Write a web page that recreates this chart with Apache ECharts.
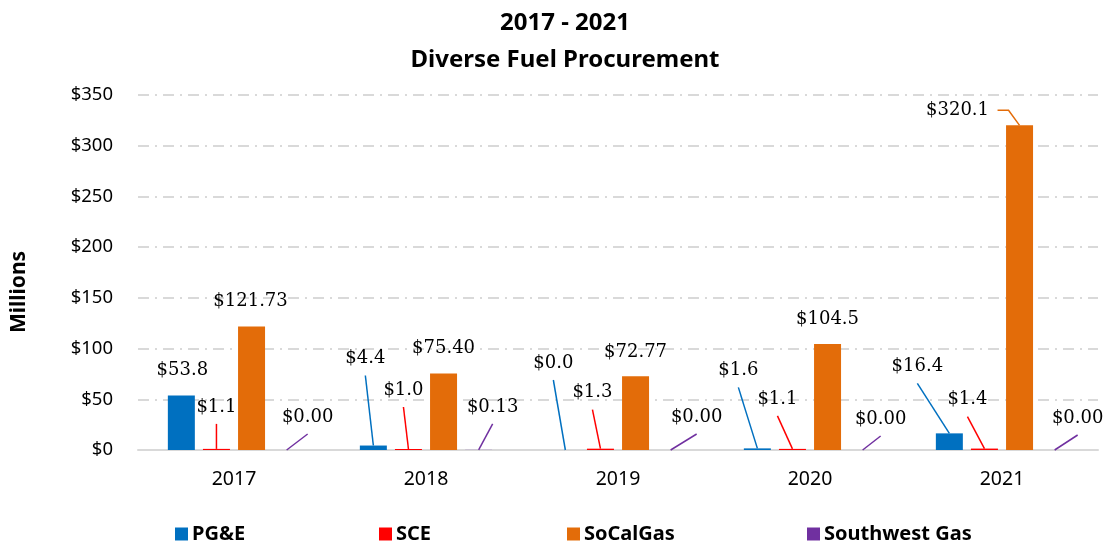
<!DOCTYPE html>
<html>
<head>
<meta charset="utf-8">
<script src="https://cdn.jsdelivr.net/npm/echarts@6/dist/echarts.min.js"></script>
<style>
    html, body { margin: 0; padding: 0; background: #fff; }
    #chart { width: 1107px; height: 547px; }
</style>
</head>
<body>
<div id="chart"></div>
<script>
// 数据
const years = ['2017', '2018', '2019', '2020', '2021'];
const yTicks = [0, 50, 100, 150, 200, 250, 300, 350];
const pgeValues = [53.8, 4.4, 0.0, 1.6, 16.4];
const sceValues = [1.1, 1.0, 1.3, 1.1, 1.4];
const socalValues = [121.73, 75.40, 72.77, 104.5, 320.1];
const swgValues = [0.00, 0.13, 0.00, 0.00, 0.00];
// label decimals as printed on the chart
const pgeDecimals = [1, 1, 1, 1, 1];
const sceDecimals = [1, 1, 1, 1, 1];
const socalDecimals = [2, 2, 2, 1, 1];
const swgDecimals = [2, 2, 2, 2, 2];

// label offsets from bar top-center [dx, dy] and whether a leader line is drawn
const pgeOffsets = [[1, -25], [-8, -87], [-12, -87], [-19, -78], [-32, -67]];
const sceOffsets = [[0, -42], [-5, -59], [-8, -56], [-15, -50], [-17, -49]];
const socalOffsets = [[-1, -25], [0, -25], [0, -24], [0, -25], [-62, -15]];
const swgOffsets = [[21, -33], [14, -43], [26, -33], [18, -31], [23, -32]];
const pgeLines = [false, true, true, true, true];
const sceLines = [true, true, true, true, true];
const socalLines = [false, false, false, false, true];
const swgLines = [true, true, true, true, true];

const colors = ['#0070C0', '#FF0000', '#E36C09', '#7030A0'];
const sansFont = 'Noto Sans';
const labelFont = 'DejaVu Serif';
const barWidth = 27;
const barGapRatio = 0.3;

function makeSeries(name, values, decimals, offsets, color) {
    return {
        name: name,
        type: 'bar',
        barWidth: barWidth,
        barGap: (barGapRatio * 100) + '%',
        itemStyle: { color: color },
        data: values,
        label: {
            show: true,
            position: 'top',
            fontFamily: labelFont,
            fontSize: 18,
            color: '#000',
            formatter: (p) => '$' + values[p.dataIndex].toFixed(decimals[p.dataIndex])
        },
        labelLayout: (p) => {
            let off = offsets[p.dataIndex];
            return {
                x: p.rect.x + p.rect.width / 2 + off[0],
                y: p.rect.y + off[1],
                align: 'center',
                verticalAlign: 'middle'
            };
        }
    };
}

// leader lines: from just under the label down to the bar's top centre
function makeLeader(k, values, offsets, lines, color) {
    let shift = (k - 1.5) * barWidth * (1 + barGapRatio);
    return {
        type: 'custom',
        silent: true,
        z: 3,
        encode: { x: 0, y: 1 },
        data: values.map((v, i) => [i, v]),
        renderItem: (params, api) => {
            let i = params.dataIndex;
            if (!lines[i]) return null;
            let top = api.coord([api.value(0), api.value(1)]);
            let bx = top[0] + shift, by = top[1];
            let off = offsets[i];
            let lx = bx + off[0], ly = by + off[1];
            let pts;
            if (off[1] > -20) {
                // label sits beside the bar: elbow from the label's right end
                pts = [[lx + 40, ly], [lx + 51, ly], [bx, by]];
            } else {
                pts = [[lx, ly + 17], [bx, by]];
            }
            return {
                type: 'polyline',
                shape: { points: pts },
                style: { stroke: color, lineWidth: 1.5, fill: null }
            };
        }
    };
}

const chart = echarts.init(document.getElementById('chart'));
const legendLeft = [175, 379, 567, 807];
const names = ['PG&E', 'SCE', 'SoCalGas', 'Southwest Gas'];

const option = {
    animation: false,
    title: {
        text: '2017 - 2021\nDiverse Fuel Procurement',
        left: 560,
        top: 0,
        textAlign: 'center',
        textStyle: { fontFamily: sansFont, fontSize: 24, fontWeight: 'bold', color: '#000', lineHeight: 37 }
    },
    legend: names.map((n, i) => ({
        data: [n],
        left: legendLeft[i],
        top: 524,
        padding: 0,
        icon: 'rect',
        itemWidth: 13,
        itemHeight: 13,
        textStyle: { fontFamily: sansFont, fontSize: 20, fontWeight: 'bold', color: '#000', padding: [0, 0, 0, -1] }
    })),
    graphic: [{
        type: 'text',
        x: 19,
        y: 292,
        rotation: Math.PI / 2,
        style: {
            text: 'Millions', fontFamily: sansFont, fontSize: 21, fontWeight: 'bold', fill: '#000',
            textAlign: 'center', textVerticalAlign: 'middle'
        }
    }],
    grid: { left: 138, right: 9, top: 95, bottom: 97 },
    xAxis: {
        type: 'category',
        data: years,
        axisTick: { show: false },
        axisLine: { lineStyle: { color: '#d9d9d9', width: 2 } },
        axisLabel: { fontFamily: sansFont, fontSize: 19.5, color: '#000', margin: 19 }
    },
    yAxis: {
        type: 'value',
        min: yTicks[0],
        max: yTicks[yTicks.length - 1],
        interval: 50,
        axisLine: { show: false },
        axisTick: { show: false },
        axisLabel: { fontFamily: sansFont, fontSize: 18.5, color: '#000', margin: 25, formatter: (v) => '$' + v },
        splitLine: { lineStyle: { color: '#d9d9d9', width: 2, type: [11, 6, 2, 6] } }
    },
    series: [
        makeSeries(names[0], pgeValues, pgeDecimals, pgeOffsets, colors[0]),
        makeSeries(names[1], sceValues, sceDecimals, sceOffsets, colors[1]),
        makeSeries(names[2], socalValues, socalDecimals, socalOffsets, colors[2]),
        makeSeries(names[3], swgValues, swgDecimals, swgOffsets, colors[3]),
        makeLeader(0, pgeValues, pgeOffsets, pgeLines, colors[0]),
        makeLeader(1, sceValues, sceOffsets, sceLines, colors[1]),
        makeLeader(2, socalValues, socalOffsets, socalLines, colors[2]),
        makeLeader(3, swgValues, swgOffsets, swgLines, colors[3])
    ]
};
chart.setOption(option);
</script>
</body>
</html>
